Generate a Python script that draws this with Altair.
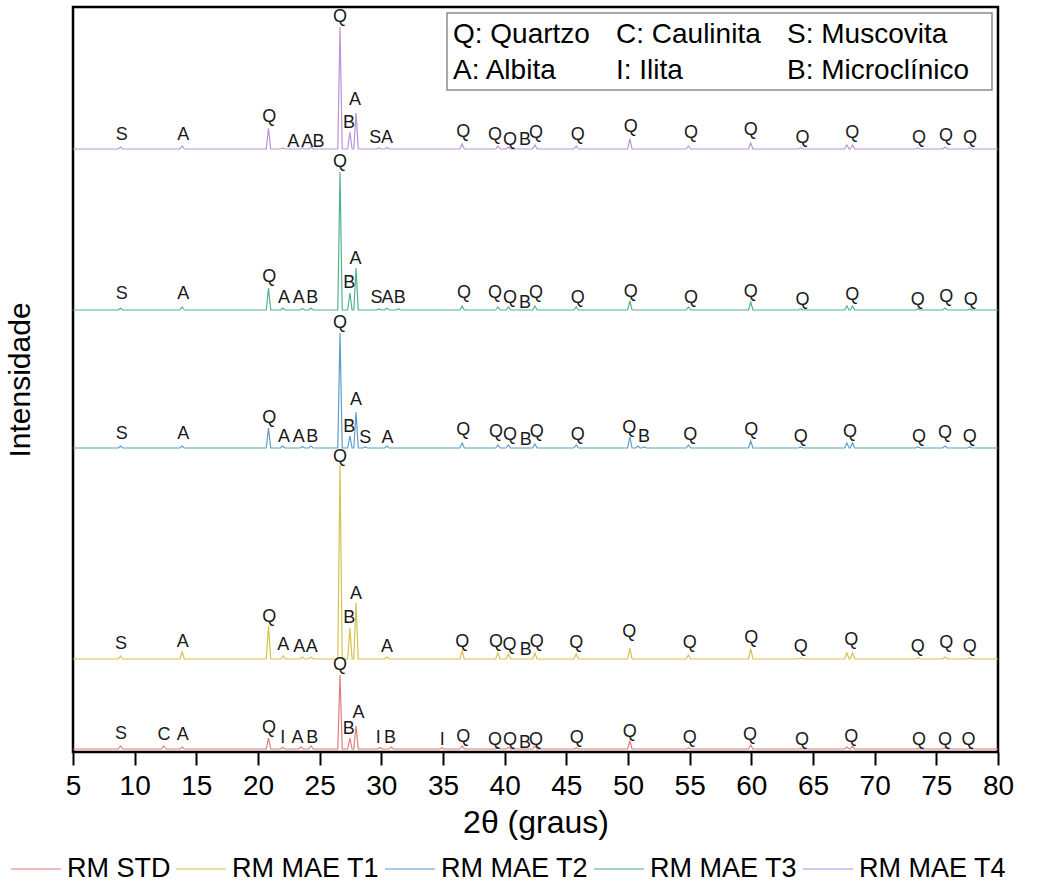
import altair as alt
import pandas as pd

# ---------------- data ----------------
series_names = ["RM STD", "RM MAE T1", "RM MAE T2", "RM MAE T3", "RM MAE T4"]
series_colors = ["#e27d7d", "#d6c24e", "#5d9dcb", "#52b38c", "#b895d6"]
# vertical stacking offset of each pattern (intensity units)
series_offset = [3, 93, 304, 442, 603]

# peaks: (2theta, intensity)
peaks_std = [(8.85, 3), (12.35, 3), (13.85, 2), (20.85, 11), (22.0, 1.5), (23.5, 2), (24.3, 3),
             (26.65, 74), (27.45, 11), (27.95, 23), (29.9, 1.5), (30.8, 2), (34.9, 1), (36.55, 3),
             (39.45, 2), (40.3, 1.5), (42.45, 3), (45.8, 1), (50.15, 8), (54.9, 1), (59.95, 4),
             (64.0, 0.5), (67.75, 2), (68.2, 2.5), (73.5, 0.5), (75.7, 1), (77.7, 0.5)]
peaks_t1 = [(8.85, 3), (13.85, 7), (20.85, 33), (22.05, 3), (23.6, 2), (24.3, 2), (26.65, 194),
            (27.45, 31), (27.95, 56), (30.45, 2), (36.55, 8), (39.45, 6), (40.3, 5), (42.45, 6),
            (45.8, 5), (50.15, 11), (54.9, 4), (59.95, 10), (64.0, 1), (67.75, 6), (68.2, 6),
            (73.5, 1), (75.7, 2), (77.7, 1)]
peaks_t2 = [(8.85, 2), (13.85, 2), (20.85, 20), (22.0, 2), (23.6, 1.5), (24.3, 2), (26.65, 115),
            (27.45, 12), (27.95, 36), (28.7, 1), (30.45, 2), (36.55, 5), (39.45, 3), (40.3, 3),
            (42.45, 4), (45.8, 3), (50.15, 11), (50.8, 2), (51.3, 1), (54.9, 3), (59.95, 7),
            (64.0, 1), (67.75, 5), (68.2, 5), (73.5, 1), (75.7, 2), (77.7, 1)]
peaks_t3 = [(8.85, 2), (13.85, 3), (20.85, 22), (22.0, 2), (23.6, 1.5), (24.3, 2), (26.65, 138),
            (27.45, 17), (27.95, 42), (29.8, 1), (30.45, 2), (31.4, 1), (36.55, 4), (39.45, 3),
            (40.3, 3), (42.45, 4), (45.8, 3), (50.15, 9), (54.9, 3), (59.95, 8), (64.0, 1),
            (67.75, 4), (68.2, 4), (73.5, 1), (75.7, 2), (77.7, 1)]
peaks_t4 = [(8.85, 2), (13.85, 3), (20.85, 21), (22.0, 1), (23.6, 1), (24.3, 1.5), (26.65, 122),
            (27.45, 17), (27.95, 36), (29.8, 1), (30.45, 1.5), (36.55, 5), (39.45, 3), (40.3, 2),
            (42.45, 4), (45.8, 3), (50.15, 10), (54.9, 3), (59.95, 6), (64.0, 1), (67.75, 4),
            (68.2, 4), (73.5, 1), (75.7, 2), (77.7, 1)]
series_peaks = [peaks_std, peaks_t1, peaks_t2, peaks_t3, peaks_t4]

# phase labels: (letter, 2theta, height above the pattern baseline)
labels_std = [("S", 8.9, 15), ("C", 12.38, 14), ("A", 13.9, 14), ("Q", 20.9, 21), ("I", 22.0, 11),
              ("A", 23.2, 11), ("B", 24.4, 11), ("Q", 26.65, 84), ("B", 27.35, 20), ("A", 28.15, 36),
              ("I", 29.76, 11), ("B", 30.7, 11), ("I", 34.94, 9), ("Q", 36.65, 12), ("Q", 39.22, 9),
              ("Q", 40.43, 9), ("B", 41.65, 6), ("Q", 42.54, 9), ("Q", 45.85, 11), ("Q", 50.15, 17),
              ("Q", 55.0, 11), ("Q", 59.9, 14), ("Q", 64.1, 9), ("Q", 68.1, 12), ("Q", 73.6, 9),
              ("Q", 75.7, 9), ("Q", 77.6, 9)]
labels_t1 = [("S", 8.9, 15), ("A", 13.9, 17), ("Q", 20.92, 42), ("A", 22.05, 14), ("A", 23.35, 12),
             ("A", 24.35, 12), ("Q", 26.65, 202), ("B", 27.4, 41), ("A", 27.95, 65), ("A", 30.45, 12),
             ("Q", 36.57, 17), ("Q", 39.3, 17), ("Q", 40.4, 14), ("B", 41.7, 9), ("Q", 42.6, 17),
             ("Q", 45.8, 16), ("Q", 50.1, 27), ("Q", 55.0, 16), ("Q", 60.0, 21), ("Q", 64.0, 12),
             ("Q", 68.1, 19), ("Q", 73.5, 12), ("Q", 75.8, 16), ("Q", 77.7, 12)]
labels_t2 = [("S", 8.95, 14), ("A", 13.94, 14), ("Q", 20.92, 30), ("A", 22.1, 11), ("A", 23.3, 11),
             ("B", 24.4, 11), ("Q", 26.65, 125), ("B", 27.4, 21), ("A", 27.95, 48), ("S", 28.7, 10),
             ("A", 30.5, 10), ("Q", 36.65, 18), ("Q", 39.3, 16), ("Q", 40.43, 13), ("B", 41.7, 8),
             ("Q", 42.6, 16), ("Q", 45.92, 13), ("Q", 50.1, 20), ("B", 51.3, 11), ("Q", 55.05, 13),
             ("Q", 60.0, 18), ("Q", 64.0, 11), ("Q", 68.0, 16), ("Q", 73.6, 11), ("Q", 75.7, 15),
             ("Q", 77.7, 11)]
labels_t3 = [("S", 8.95, 16), ("A", 13.94, 16), ("Q", 20.92, 33), ("A", 22.1, 12), ("A", 23.3, 12),
             ("B", 24.4, 12), ("Q", 26.65, 148), ("B", 27.4, 27), ("A", 27.9, 51), ("S", 29.6, 12),
             ("A", 30.5, 12), ("B", 31.5, 12), ("Q", 36.7, 17), ("Q", 39.22, 17), ("Q", 40.43, 12),
             ("B", 41.65, 7), ("Q", 42.54, 17), ("Q", 45.92, 12), ("Q", 50.22, 18), ("Q", 55.11, 12),
             ("Q", 59.95, 18), ("Q", 64.14, 10), ("Q", 68.19, 15), ("Q", 73.5, 10), ("Q", 75.8, 13),
             ("Q", 77.8, 10)]
labels_t4 = [("S", 8.95, 14), ("A", 13.94, 14), ("Q", 20.92, 32), ("A", 22.85, 7), ("A", 24.0, 7),
             ("B", 24.9, 7), ("Q", 26.65, 132), ("B", 27.38, 26), ("A", 27.87, 49), ("S", 29.5, 11),
             ("A", 30.45, 11), ("Q", 36.65, 17), ("Q", 39.22, 14), ("Q", 40.43, 9), ("B", 41.65, 9),
             ("Q", 42.54, 16), ("Q", 45.92, 14), ("Q", 50.22, 22), ("Q", 55.11, 16), ("Q", 59.95, 19),
             ("Q", 64.14, 11), ("Q", 68.19, 16), ("Q", 73.6, 11), ("Q", 75.79, 13), ("Q", 77.73, 11)]
series_labels = [labels_std, labels_t1, labels_t2, labels_t3, labels_t4]

phase_key = [["Q: Quartzo", "C: Caulinita", "S: Muscovita"],
             ["A: Albita", "I: Ilita", "B: Microclínico"]]

x_ticks = [5 + 2.5 * i for i in range(31)]

# ---------------- build tables ----------------
HW = 0.18  # half width of the drawn peaks (style)
rows = []
for name, off, pk in zip(series_names, series_offset, series_peaks):
    pts = [(5.0, 0.0), (80.0, 0.0)]
    for p, h in pk:
        pts += [(p - HW, 0.0), (p, float(h)), (p + HW, 0.0)]
    pts.sort()
    for i, (x, y) in enumerate(pts):
        rows.append({"series": name, "theta": x, "intensity": y + off, "ord": i})
lines_df = pd.DataFrame(rows)

lrows = []
for name, off, lb in zip(series_names, series_offset, series_labels):
    for letter, x, h in lb:
        lrows.append({"series": name, "letter": letter, "theta": x, "y": h + off})
labels_df = pd.DataFrame(lrows)

FONT = "Liberation Sans, Arial, Helvetica, sans-serif"

xscale = alt.Scale(domain=[5, 80], nice=False, zero=False)
yscale = alt.Scale(domain=[0, 745], nice=False, zero=False)

lines = alt.Chart(lines_df).mark_line(strokeWidth=1.2).encode(
    x=alt.X("theta:Q", scale=xscale, title="2θ (graus)",
            axis=alt.Axis(values=x_ticks,
                          labelExpr="datum.value % 5 === 0 ? datum.label : ''",
                          tickSize={"condition": {"test": "datum.value % 5 === 0", "value": 13}, "value": 7},
                          tickWidth=2, tickColor="black", domain=False, grid=False,
                          labelFontSize=28, labelColor="black", labelPadding=7, labelFont=FONT,
                          labelFlush=False, labelOverlap=False,
                          titleFontSize=32, titleFontWeight="normal", titleColor="black",
                          titlePadding=7, titleFont=FONT)),
    y=alt.Y("intensity:Q", scale=yscale, title="Intensidade",
            axis=alt.Axis(labels=False, ticks=False, domain=False, grid=False,
                          titleFontSize=30, titleFontWeight="normal", titleColor="black",
                          titlePadding=38, titleFont=FONT)),
    color=alt.Color("series:N",
                    scale=alt.Scale(domain=series_names, range=series_colors),
                    legend=alt.Legend(title=None, orient="none", direction="horizontal",
                                      legendX=-63, legendY=836, symbolType="stroke",
                                      symbolSize=2500, symbolStrokeWidth=1.5, symbolOpacity=0.7,
                                      labelFontSize=27, labelFont=FONT, labelColor="black",
                                      labelOffset=5, columnPadding=2, columns=5)),
    detail="series:N",
    order="ord:Q",
)

texts = alt.Chart(labels_df).mark_text(fontSize=18, font=FONT, color="#1a1a1a",
                                       align="center", baseline="middle").encode(
    x=alt.X("theta:Q", scale=xscale),
    y=alt.Y("y:Q", scale=yscale),
    text="letter:N",
)

box = alt.Chart(pd.DataFrame({"a": [0]})).mark_rect(fill="white", stroke="#8a8a8a", strokeWidth=1.5).encode(
    x=alt.value(374), x2=alt.value(919), y=alt.value(6), y2=alt.value(83))

key_x = [380, 543, 714]
key_y = [28, 64]
key_layers = []
for r, row in enumerate(phase_key):
    for c, txt in enumerate(row):
        key_layers.append(
            alt.Chart(pd.DataFrame({"a": [0]})).mark_text(
                text=txt, fontSize=28, font=FONT, color="black", align="left", baseline="middle"
            ).encode(x=alt.value(key_x[c]), y=alt.value(key_y[r]))
        )

chart = alt.layer(lines, texts, box, *key_layers).properties(
    width=925, height=745,
    autosize=alt.AutoSizeParams(type="none"),
    padding={"left": 73, "top": 7, "right": 47, "bottom": 139},
).configure_view(stroke="black", strokeWidth=2.5)

chart.save("out.html", embed_options={"renderer": "svg", "actions": False})
